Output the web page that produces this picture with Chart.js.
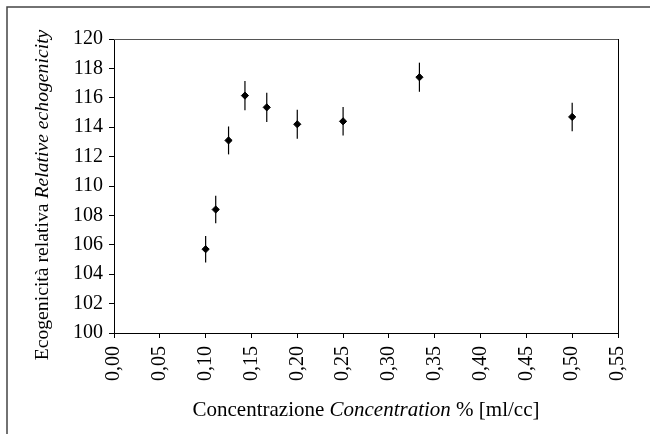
<!DOCTYPE html>
<html>
<head>
<meta charset="utf-8">
<script src="https://cdn.jsdelivr.net/npm/chart.js@4/dist/chart.umd.min.js"></script>
<style>
  html, body { margin: 0; padding: 0; background: #fff; }
  #wrap { position: relative; width: 650px; height: 434px; }
</style>
</head>
<body>
<div id="wrap"><canvas id="c" width="650" height="434"></canvas></div>
<script>
// ---- data ----
const concentrations = [0.10, 0.111, 0.125, 0.1429, 0.1667, 0.20, 0.25, 0.3333, 0.50];
const echogenicity   = [105.7, 108.4, 113.1, 116.15, 115.35, 114.2, 114.4, 117.4, 114.7];
const errors         = [0.9, 0.93, 0.95, 1.0, 1.0, 0.98, 0.97, 0.99, 0.97];
const xTickLabels = ['0,00','0,05','0,10','0,15','0,20','0,25','0,30','0,35','0,40','0,45','0,50','0,55'];
const yTickLabels = ['100','102','104','106','108','110','112','114','116','118','120'];
const xTitleParts = [
  { text: 'Concentrazione ', italic: false },
  { text: 'Concentration', italic: true },
  { text: ' % [ml/cc]', italic: false }
];
const yTitleParts = [
  { text: 'Ecogenicità relativa ', italic: false },
  { text: 'Relative echogenicity', italic: true }
];

const FAMILY = '"Liberation Serif", "Times New Roman", serif';
const FS = 20;

function drawMixed(ctx, parts, cx, baseY, size) {
  let total = 0;
  parts.forEach(p => {
    ctx.font = (p.italic ? 'italic ' : '') + size + 'px ' + FAMILY;
    p.w = ctx.measureText(p.text).width;
    total += p.w;
  });
  let x = cx - total / 2;
  ctx.textAlign = 'left';
  ctx.textBaseline = 'alphabetic';
  ctx.fillStyle = '#000';
  parts.forEach(p => {
    ctx.font = (p.italic ? 'italic ' : '') + size + 'px ' + FAMILY;
    ctx.fillText(p.text, x, baseY);
    x += p.w;
  });
}

const decorPlugin = {
  id: 'decor',
  beforeDraw(chart) {
    const ctx = chart.ctx;
    ctx.save();
    ctx.strokeStyle = '#444';
    ctx.lineWidth = 1.5;
    ctx.beginPath();
    ctx.moveTo(7, chart.height);
    ctx.lineTo(7, 7);
    ctx.lineTo(chart.width, 7);
    ctx.stroke();
    ctx.restore();
  },
  afterDatasetsDraw(chart) {
    const ctx = chart.ctx, a = chart.chartArea;
    const xs = chart.scales.x, ys = chart.scales.y;
    ctx.save();
    // plot box top / right
    ctx.lineWidth = 1;
    ctx.strokeStyle = '#555';
    ctx.beginPath();
    ctx.moveTo(a.left, a.top + 0.5);
    ctx.lineTo(a.right, a.top + 0.5);
    ctx.stroke();
    ctx.strokeStyle = '#000';
    ctx.beginPath();
    ctx.moveTo(a.right + 0.5, a.top);
    ctx.lineTo(a.right + 0.5, a.bottom);
    ctx.stroke();
    // error bars
    ctx.strokeStyle = '#000';
    ctx.lineWidth = 1.2;
    concentrations.forEach((c, i) => {
      const px = xs.getPixelForValue(c);
      const y1 = ys.getPixelForValue(echogenicity[i] + errors[i]);
      const y2 = ys.getPixelForValue(echogenicity[i] - errors[i]);
      ctx.beginPath();
      ctx.moveTo(px, y1);
      ctx.lineTo(px, y2);
      ctx.stroke();
    });
    ctx.restore();
  },
  afterDraw(chart) {
    const ctx = chart.ctx, a = chart.chartArea;
    const xs = chart.scales.x, ys = chart.scales.y;
    ctx.save();
    drawMixed(ctx, xTitleParts, (a.left + a.right) / 2, xs.bottom - 8.5, 21);
    ctx.translate(ys.left + 23, (a.top + a.bottom) / 2 + 9);
    ctx.rotate(-Math.PI / 2);
    drawMixed(ctx, yTitleParts, 0, 0, 19.7);
    ctx.restore();
  }
};

new Chart(document.getElementById('c'), {
  type: 'scatter',
  data: {
    datasets: [{
      data: concentrations.map((c, i) => ({ x: c, y: echogenicity[i] })),
      pointStyle: 'rectRot',
      pointRadius: 3.6,
      pointHoverRadius: 3.6,
      backgroundColor: '#000',
      borderColor: '#000',
      borderWidth: 1,
      showLine: false
    }]
  },
  options: {
    responsive: false,
    animation: false,
    events: [],
    layout: { padding: { left: 25, top: 39, right: 28, bottom: 10 } },
    plugins: { legend: { display: false }, tooltip: { enabled: false } },
    scales: {
      x: {
        type: 'linear',
        min: 0, max: 0.55,
        afterFit(s) { s.height = 91; },
        grid: { drawOnChartArea: false, tickLength: 5, color: '#000', tickColor: '#000' },
        border: { display: true, color: '#000', width: 1 },
        ticks: {
          stepSize: 0.05,
          autoSkip: false,
          minRotation: 90, maxRotation: 90,
          padding: 8,
          color: '#000',
          font: { family: FAMILY, size: FS },
          callback: (v, i) => xTickLabels[i]
        },
        title: { display: false }
      },
      y: {
        min: 100, max: 120,
        afterFit(s) { s.width = 89; },
        grid: { drawOnChartArea: false, tickLength: 5, color: '#000', tickColor: '#000' },
        border: { display: true, color: '#000', width: 1 },
        ticks: {
          stepSize: 2,
          padding: 6,
          color: '#000',
          font: { family: FAMILY, size: FS },
          callback: (v, i) => yTickLabels[i]
        },
        title: { display: false }
      }
    }
  },
  plugins: [decorPlugin]
});
</script>
</body>
</html>
